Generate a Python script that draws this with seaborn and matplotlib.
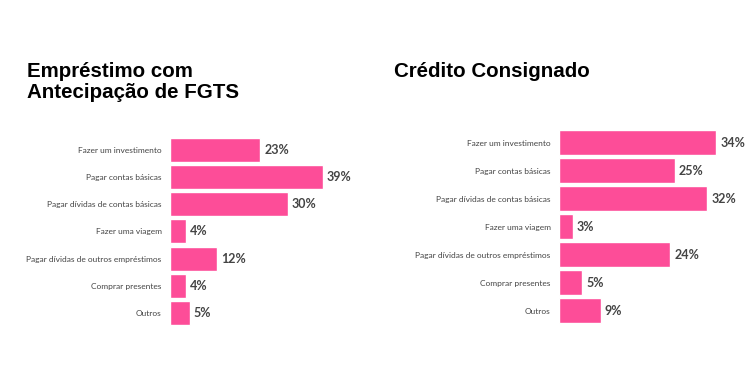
import pandas as pd
import seaborn as sns
import matplotlib.pyplot as plt

# Motivos (mesma ordem nos dois painéis)
categories = ["Fazer um investimento",
              "Pagar contas básicas",
              "Pagar dívidas de contas básicas",
              "Fazer uma viagem",
              "Pagar dívidas de outros empréstimos",
              "Comprar presentes",
              "Outros"]
fgts_values = [23, 39, 30, 4, 12, 4, 5]
consignado_values = [34, 25, 32, 3, 24, 5, 9]

title_fgts = "Empréstimo com\nAntecipação de FGTS"
title_consignado = "Crédito Consignado"

pink = "#fd4d98"
label_color = "#444444"

sns.set_style("white")
plt.rcParams['font.family'] = ['Lato', 'DejaVu Sans']

fig = plt.figure(figsize=(7.5, 3.71), dpi=100)
ax1 = fig.add_axes([0.2267, 0.1186, 0.235, 0.515])
ax2 = fig.add_axes([0.7453, 0.1253, 0.2467, 0.528])


def draw_panel(ax, values, xmax, bar_width):
    df = pd.DataFrame({"motivo": categories, "pct": values})
    sns.barplot(data=df, y="motivo", x="pct", orient="h", color=pink,
                saturation=1, width=bar_width, ax=ax)
    ax.set_xlim(0, xmax)
    ax.set_xlabel("")
    ax.set_ylabel("")
    ax.set_xticks([])
    ax.tick_params(axis="y", length=0, pad=6, labelsize=6.0, labelcolor=label_color)
    for s in ax.spines.values():
        s.set_visible(False)
    for bar, v in zip(ax.patches, values):
        ax.annotate(f"{v}%", (bar.get_width(), bar.get_y() + bar.get_height() / 2),
                    xytext=(3, 0), textcoords="offset points", va="center",
                    ha="left", fontsize=9, fontweight="bold", color=label_color)


draw_panel(ax1, fgts_values, 45, 0.88)
draw_panel(ax2, consignado_values, 40, 0.89)

fig.text(0.036, 0.834, title_fgts, fontsize=14.8, fontweight="bold",
         family=["Liberation Sans", "DejaVu Sans"], va="top", ha="left",
         linespacing=1.15, color="black")
fig.text(0.526, 0.834, title_consignado, fontsize=14.8, fontweight="bold",
         family=["Liberation Sans", "DejaVu Sans"], va="top", ha="left",
         color="black")

fig.savefig("out.png", dpi=100)
